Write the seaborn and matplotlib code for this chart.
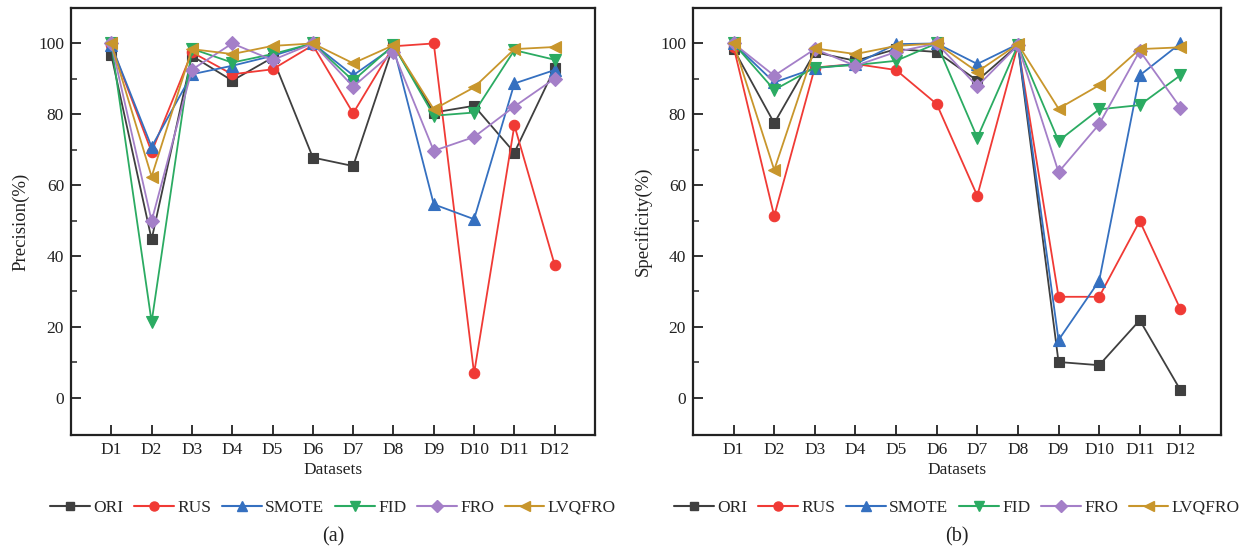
import numpy as np
import pandas as pd
import seaborn as sns
import matplotlib
matplotlib.use("Agg")
import matplotlib.pyplot as plt
from matplotlib.ticker import MultipleLocator, FixedLocator
from matplotlib.lines import Line2D

datasets = ["D1", "D2", "D3", "D4", "D5", "D6", "D7", "D8", "D9", "D10", "D11", "D12"]
methods = ["ORI", "RUS", "SMOTE", "FID", "FRO", "LVQFRO"]

# Precision (%)
prec_ori    = [96.7, 44.7, 96.5, 89.5, 96.0, 67.8, 65.4, 99.5, 80.5, 82.4, 69.2, 93.0]
prec_rus    = [99.5, 69.4, 97.5, 91.3, 92.7, 99.5, 80.3, 99.2, 100.0, 6.9, 76.9, 37.5]
prec_smote  = [99.5, 70.8, 91.3, 93.7, 96.5, 100.0, 91.0, 99.0, 54.6, 50.4, 88.7, 92.5]
prec_fid    = [100.0, 21.4, 98.5, 94.6, 97.0, 100.0, 89.5, 99.5, 79.6, 80.5, 98.1, 95.4]
prec_fro    = [100.0, 49.9, 92.6, 100.0, 95.3, 100.0, 87.8, 97.6, 69.7, 73.6, 82.2, 90.1]
prec_lvqfro = [100.0, 62.4, 98.4, 97.0, 99.3, 100.0, 94.4, 99.5, 81.4, 87.6, 98.4, 99.0]

# Specificity (%)
spec_ori    = [98.4, 77.5, 97.5, 95.1, 98.4, 97.6, 89.5, 99.5, 10.1, 9.2, 21.9, 2.2]
spec_rus    = [99.0, 51.3, 93.2, 94.2, 92.5, 82.9, 57.0, 99.5, 28.5, 28.5, 49.9, 25.0]
spec_smote  = [100.0, 89.0, 93.0, 94.2, 99.8, 100.0, 94.2, 99.8, 16.3, 33.0, 91.0, 100.0]
spec_fid    = [100.0, 86.9, 93.2, 93.9, 95.1, 100.0, 73.4, 99.5, 72.5, 81.4, 82.6, 91.0]
spec_fro    = [100.0, 90.9, 98.4, 93.7, 97.6, 100.0, 87.9, 99.5, 63.7, 77.2, 97.9, 81.9]
spec_lvqfro = [100.0, 64.3, 98.6, 97.0, 99.3, 100.0, 92.0, 99.8, 81.6, 88.2, 98.4, 98.9]

colors = {"ORI": "#3f3f3f", "RUS": "#f03a35", "SMOTE": "#3570c0",
          "FID": "#2bab62", "FRO": "#a47fc8", "LVQFRO": "#c8962c"}
markers = {"ORI": "s", "RUS": "o", "SMOTE": "^", "FID": "v", "FRO": "D", "LVQFRO": "<"}
msizes = {"ORI": 7, "RUS": 7.5, "SMOTE": 8, "FID": 8, "FRO": 7, "LVQFRO": 8.5}


def long_df(series):
    rows = []
    for m, vals in zip(methods, series):
        for i, (d, v) in enumerate(zip(datasets, vals)):
            rows.append({"method": m, "pos": i + 1, "dataset": d, "value": v})
    return pd.DataFrame(rows)


df_prec = long_df([prec_ori, prec_rus, prec_smote, prec_fid, prec_fro, prec_lvqfro])
df_spec = long_df([spec_ori, spec_rus, spec_smote, spec_fid, spec_fro, spec_lvqfro])

sns.set_theme(style="ticks")
plt.rcParams["font.family"] = ["Liberation Serif", "DejaVu Serif"]
plt.rcParams["mathtext.fontset"] = "stix"

fig = plt.figure(figsize=(12.53, 5.47), dpi=100)
W, H = 1253, 547
ax1 = fig.add_axes([71 / W, (H - 435) / H, (595 - 71) / W, (435 - 8) / H])
ax2 = fig.add_axes([693 / W, (H - 435) / H, (1221 - 693) / W, (435 - 8) / H])

fs = 12.5

for ax, df, ylab, tag in [(ax1, df_prec, "Precision(%)", "(a)"),
                          (ax2, df_spec, "Specificity(%)", "(b)")]:
    for m in methods:
        sub = df[df["method"] == m]
        sns.lineplot(data=sub, x="pos", y="value", ax=ax, color=colors[m],
                     marker=markers[m], markersize=msizes[m], linewidth=1.3,
                     markeredgecolor=colors[m], markeredgewidth=0.8,
                     legend=False, errorbar=None, sort=False)
    ax.set_xlim(0, 13)
    ax.set_ylim(-10.5, 110)
    ax.set_xticks(range(1, len(datasets) + 1))
    ax.set_xticklabels(datasets)
    ax.yaxis.set_major_locator(MultipleLocator(20))
    ax.yaxis.set_minor_locator(FixedLocator([10, 30, 50, 70, 90]))
    ax.tick_params(axis="both", which="major", direction="in", length=7, width=1.3,
                   labelsize=fs, colors="#222222", pad=5)
    ax.tick_params(axis="y", which="minor", direction="in", length=4, width=1.1)
    for s in ax.spines.values():
        s.set_linewidth(1.6)
        s.set_color("#222222")
    ax.set_xlabel("Datasets", fontsize=fs, color="#222222", labelpad=3)
    ax.set_ylabel(ylab, fontsize=fs + 1, color="#222222", labelpad=6)

    handles = [Line2D([0], [0], color=colors[m], marker=markers[m], markersize=msizes[m] - 1,
                      markeredgecolor=colors[m], linewidth=1.5) for m in methods]
    ax.legend(handles, methods, loc="upper center", bbox_to_anchor=(0.5, -0.135),
              ncol=6, frameon=False, fontsize=fs, handlelength=2.3, handletextpad=0.2,
              columnspacing=0.6, borderaxespad=0.0)
    ax.text(0.5, -0.215, tag, transform=ax.transAxes, ha="center", va="top",
            fontsize=fs + 2, color="#222222")

fig.savefig("out.png", dpi=100)
